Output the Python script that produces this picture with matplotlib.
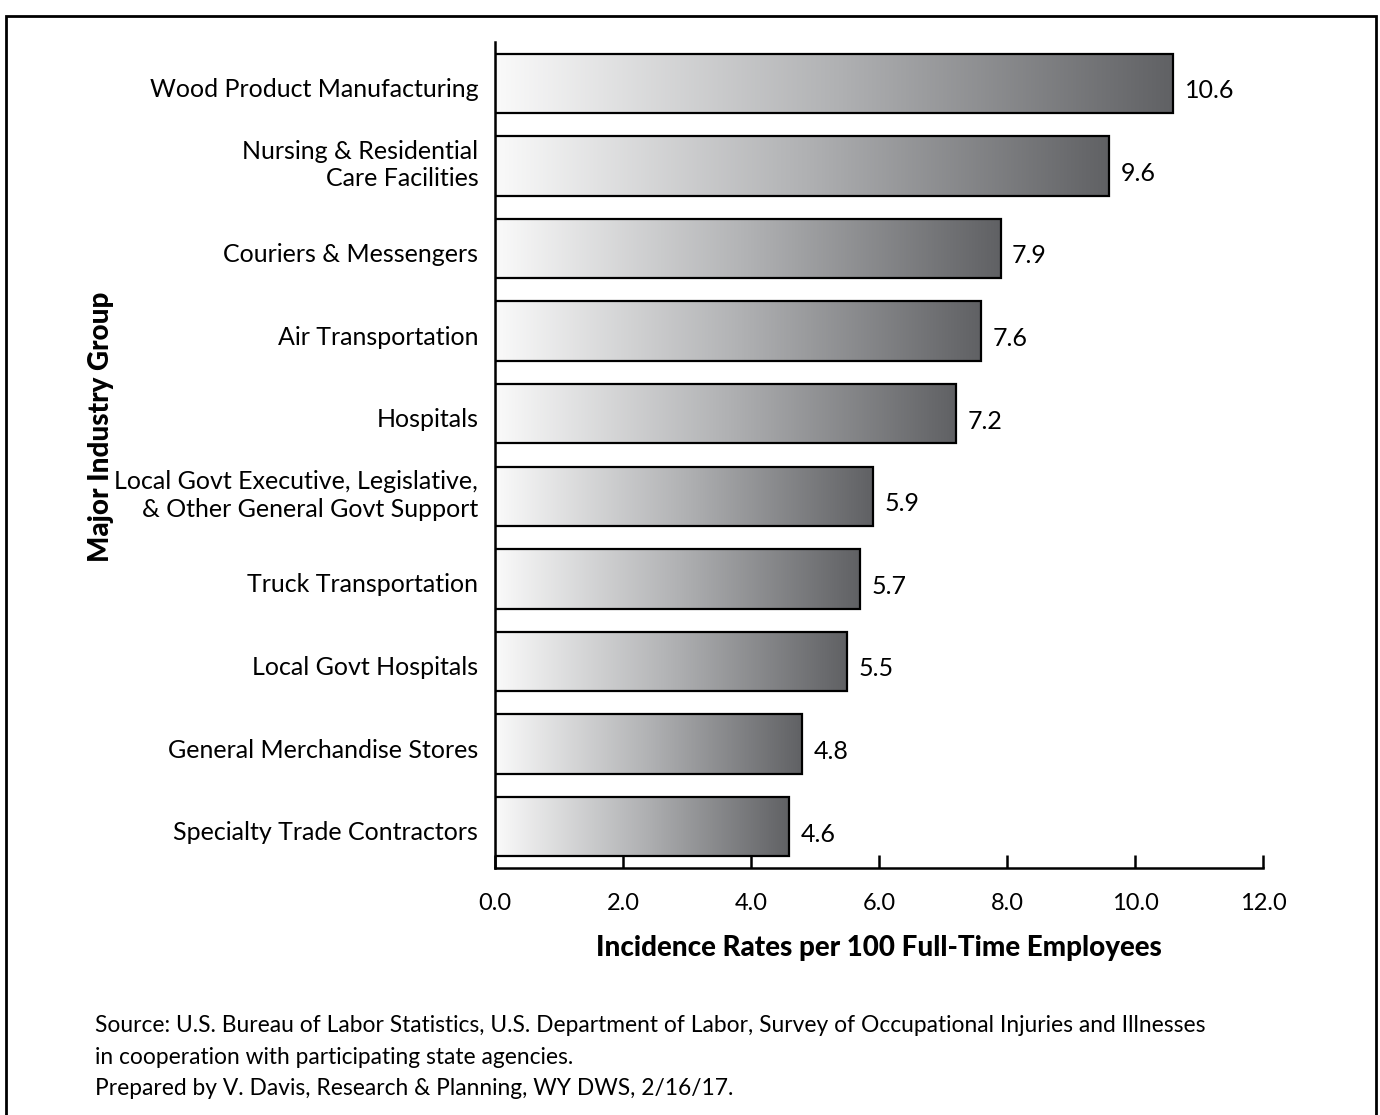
import numpy as np
import matplotlib
matplotlib.use("Agg")
import matplotlib.pyplot as plt
from matplotlib.colors import LinearSegmentedColormap
from matplotlib.patches import Rectangle
from matplotlib.transforms import ScaledTranslation

plt.rcParams['font.family'] = ['Lato', 'DejaVu Sans']

industries = [
    "Wood Product Manufacturing",
    "Nursing & Residential\nCare Facilities",
    "Couriers & Messengers",
    "Air Transportation",
    "Hospitals",
    "Local Govt Executive, Legislative,\n& Other General Govt Support",
    "Truck Transportation",
    "Local Govt Hospitals",
    "General Merchandise Stores",
    "Specialty Trade Contractors",
]
rates = [10.6, 9.6, 7.9, 7.6, 7.2, 5.9, 5.7, 5.5, 4.8, 4.6]
xticks = [0.0, 2.0, 4.0, 6.0, 8.0, 10.0, 12.0]

source_lines = [
    "Source: U.S. Bureau of Labor Statistics, U.S. Department of Labor, Survey of Occupational Injuries and Illnesses",
    "in cooperation with participating state agencies.",
    "Prepared by V. Davis, Research & Planning, WY DWS, 2/16/17.",
]

fig = plt.figure(figsize=(13.8, 11.15), dpi=100)
ax = fig.add_axes([0.3587, 0.2215, 0.5565, 0.7408])

# grey ramp, light on the left, dark at the bar end
ramp = LinearSegmentedColormap.from_list("ramp", ["#fafafa", "#b1b2b4", "#606164"])
grad = np.linspace(0, 1, 256).reshape(1, -1)

bar_h = 0.72
ypos = np.arange(len(rates))
for y, v in zip(ypos, rates):
    ax.imshow(grad, cmap=ramp, aspect="auto",
              extent=[0, v, y + bar_h / 2, y - bar_h / 2], zorder=1)
    ax.add_patch(Rectangle((0, y - bar_h / 2), v, bar_h, facecolor="none",
                           edgecolor="black", linewidth=1.6, zorder=2))
    ax.text(v + 0.18, y + 0.09, f"{v:.1f}", va="center", ha="left", fontsize=18)

ax.set_xlim(0, 12)
ax.set_ylim(len(rates) - 0.5, -0.5)
ax.set_xticks(xticks)
ax.set_xticklabels([f"{t:.1f}" for t in xticks], fontsize=17)
ax.set_yticks(ypos)
ax.set_yticklabels(industries, fontsize=18, linespacing=1.22)
ax.tick_params(axis="x", direction="in", length=9.5, width=1.8, pad=18)
ax.tick_params(axis="y", length=0, pad=12)

# single-line names sit a little low, two-line names a little high
for lbl in ax.get_yticklabels():
    dy = 4 if "\n" not in lbl.get_text() else -5
    lbl.set_transform(lbl.get_transform()
                      + ScaledTranslation(0, -dy / 100, fig.dpi_scale_trans))

for side in ("top", "right"):
    ax.spines[side].set_visible(False)
for side in ("left", "bottom"):
    ax.spines[side].set_linewidth(1.8)

ax.set_xlabel("Incidence Rates per 100 Full-Time Employees", fontsize=20,
              fontweight="black", labelpad=15)
fig.text(0.073, 0.617, "Major Industry Group", rotation=90, fontsize=20,
         fontweight="black", ha="center", va="center")

for i, line in enumerate(source_lines):
    fig.text(0.069, 0.080 - i * 0.0283, line, fontsize=16.4, ha="left",
             va="center")

# frame around the whole figure
fig.add_artist(Rectangle((0.0045, -0.01), 0.9925, 0.9955, transform=fig.transFigure,
                         facecolor="none", edgecolor="black", linewidth=2))

fig.savefig("out.png", dpi=100)
